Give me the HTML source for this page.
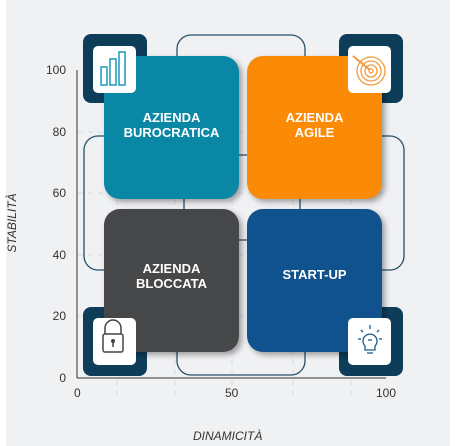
<!DOCTYPE html>
<html><head><meta charset="utf-8"><style>
html,body{margin:0;padding:0;background:#fff;}
body{width:455px;height:446px;position:relative;overflow:hidden;font-family:"Liberation Sans",sans-serif;}
.bg{position:absolute;left:6px;top:0;width:444px;height:446px;background:#f0f1f3;}
.a{position:absolute;}
.dk{position:absolute;background:#0e3d5a;border-radius:8px;width:64px;height:69px;}
.wb{position:absolute;background:#fff;border-radius:5px;width:43px;height:47px;z-index:5;}
.card{position:absolute;width:135px;height:143px;border-radius:16px;box-shadow:3px 3px 6px rgba(0,0,0,.35);color:#fff;font-weight:bold;font-size:13px;text-align:center;line-height:15px;}
.yl{position:absolute;left:40px;width:26px;text-align:right;font-size:12px;color:#333;}
.xl{position:absolute;top:386px;font-size:12px;color:#333;}
</style></head><body>
<div class="bg"></div>
<svg class="a" style="left:0;top:0" width="455" height="446">
<g stroke="#d6dde5" stroke-dasharray="5,5" stroke-width="1">
<line x1="78" y1="132" x2="385" y2="132"/><line x1="78" y1="193" x2="385" y2="193"/>
<line x1="78" y1="255" x2="385" y2="255"/><line x1="78" y1="316" x2="385" y2="316"/>
<line x1="117" y1="70" x2="117" y2="400"/><line x1="175" y1="70" x2="175" y2="400"/>
<line x1="232" y1="70" x2="232" y2="400"/><line x1="293" y1="70" x2="293" y2="400"/>
<line x1="351" y1="70" x2="351" y2="400"/>
</g>
<g fill="none" stroke="#27506a" stroke-width="1.3">
<rect x="177" y="35" width="128" height="120" rx="14"/>
<rect x="177" y="240" width="128" height="135" rx="14"/>
<rect x="84" y="136" width="100" height="134" rx="14"/>
<rect x="300" y="136" width="104" height="134" rx="14"/>
</g>
<line x1="77" y1="70" x2="77" y2="378" stroke="#333" stroke-width="1"/>
<line x1="77" y1="378" x2="386" y2="378" stroke="#333" stroke-width="1"/>
</svg>
<div class="dk" style="left:83px;top:34px"></div>
<div class="dk" style="left:339px;top:34px"></div>
<div class="dk" style="left:83px;top:307px"></div>
<div class="dk" style="left:339px;top:307px"></div>
<div class="card" style="left:104px;top:56px;background:#0a87a5"><div style="margin-top:54px">AZIENDA<br>BUROCRATICA</div></div>
<div class="card" style="left:247px;top:56px;background:#fb8a07"><div style="margin-top:54px">AZIENDA<br>AGILE</div></div>
<div class="card" style="left:104px;top:209px;background:#464749"><div style="margin-top:52px">AZIENDA<br>BLOCCATA</div></div>
<div class="card" style="left:247px;top:209px;background:#10528d"><div style="margin-top:58px">START-UP</div></div>
<div class="wb" style="left:93px;top:46px"></div>
<div class="wb" style="left:348px;top:46px"></div>
<div class="wb" style="left:93px;top:318px"></div>
<div class="wb" style="left:348px;top:318px"></div>
<svg class="a" style="left:0;top:0;z-index:6" width="455" height="446">
<g fill="none" stroke="#1c9ab8" stroke-width="1.5">
<rect x="101" y="67" width="6" height="18"/><rect x="110" y="59" width="6" height="26"/><rect x="119" y="52" width="6" height="33"/>
</g>
<g fill="none" stroke="#f29a3a" stroke-width="1.3">
<circle cx="371" cy="71" r="14"/><circle cx="371" cy="71" r="10"/><circle cx="371" cy="71" r="6"/><circle cx="371" cy="71" r="2"/>
<line x1="353" y1="56" x2="370" y2="70" stroke-width="2"/>
</g>
<g fill="none" stroke="#444" stroke-width="1.5">
<path d="M105 334 v-6 a8 8 0 0 1 16 0 v6"/><rect x="103" y="334" width="20" height="18" rx="2"/>
</g>
<circle cx="113" cy="341" r="2" fill="#444"/><line x1="113" y1="342" x2="113" y2="347" stroke="#444" stroke-width="1.5"/>
<g fill="none" stroke="#1a5d8d" stroke-width="1.3">
<path d="M365 346 a7 7 0 1 1 10 0 v4 h-10 z"/><line x1="367" y1="353" x2="373" y2="353"/>
<line x1="370" y1="325" x2="370" y2="329"/><line x1="358" y1="339" x2="361" y2="339"/><line x1="379" y1="339" x2="382" y2="339"/>
<line x1="361" y1="330" x2="363" y2="332"/><line x1="379" y1="330" x2="377" y2="332"/>
<line x1="368" y1="340" x2="372" y2="340"/>
</g>
</svg>
<div class="yl" style="top:63px">100</div>
<div class="yl" style="top:125px">80</div>
<div class="yl" style="top:186px">60</div>
<div class="yl" style="top:248px">40</div>
<div class="yl" style="top:309px">20</div>
<div class="yl" style="top:371px">0</div>
<div class="xl" style="left:74px">0</div>
<div class="xl" style="left:225px">50</div>
<div class="xl" style="left:376px">100</div>
<div class="a" style="left:193px;top:429px;font-size:12px;font-style:italic;color:#333">DINAMICITÀ</div>
<div class="a" style="left:-18px;top:216px;width:60px;text-align:center;font-size:12px;font-style:italic;color:#333;transform:rotate(-90deg)">STABILITÀ</div>
</body></html>
